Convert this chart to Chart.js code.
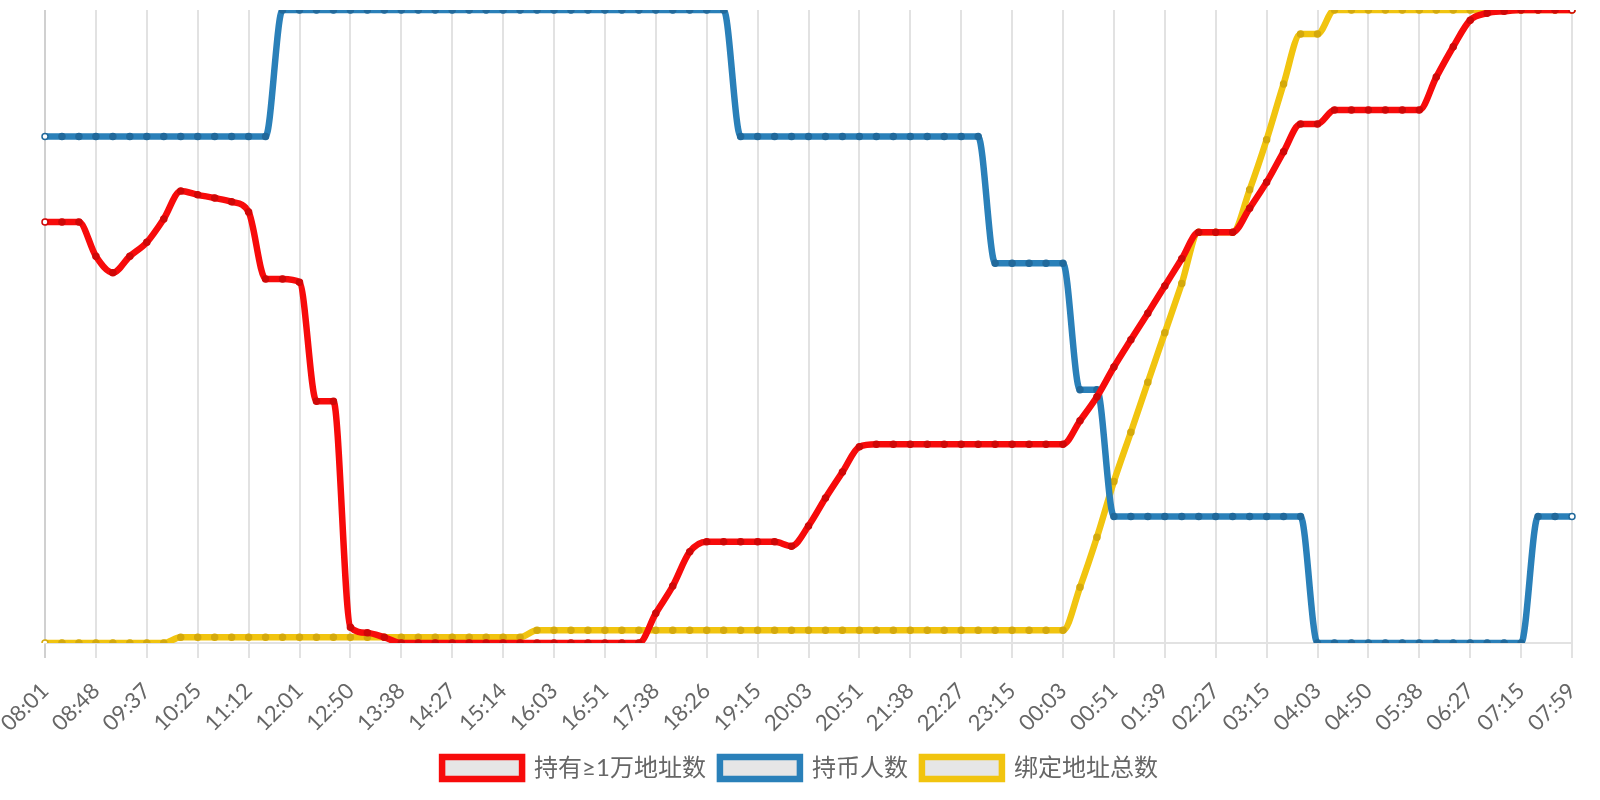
<!DOCTYPE html>
<html>
<head>
<meta charset="utf-8">
<title>持币统计</title>
<script src="https://cdn.jsdelivr.net/npm/chart.js@4/dist/chart.umd.min.js"></script>
<style>
  html, body { margin: 0; padding: 0; background: #fff; }
  #wrap { width: 1600px; height: 800px; position: relative; }
</style>
</head>
<body>
<div id="wrap"><canvas id="chartHolders"></canvas></div>
<script>
// horas de muestreo (cada ~16 min, se muestra 1 de cada 3)
const timeLabels = [
  "08:01","08:17","08:32","08:48","09:04","09:21","09:37","09:53","10:09","10:25",
  "10:41","10:56","11:12","11:28","11:45","12:01","12:17","12:34","12:50","13:06",
  "13:22","13:38","13:54","14:11","14:27","14:43","14:58","15:14","15:30","15:47",
  "16:03","16:19","16:35","16:51","17:07","17:22","17:38","17:54","18:10","18:26",
  "18:42","18:59","19:15","19:31","19:47","20:03","20:19","20:35","20:51","21:07",
  "21:22","21:38","21:54","22:11","22:27","22:43","22:59","23:15","23:31","23:47",
  "00:03","00:19","00:35","00:51","01:07","01:23","01:39","01:55","02:11","02:27",
  "02:43","02:59","03:15","03:31","03:47","04:03","04:19","04:34","04:50","05:06",
  "05:22","05:38","05:54","06:11","06:27","06:43","06:59","07:15","07:30","07:44",
  "07:59"
];

const seriesNames = ["持有≥1万地址数", "持币人数", "绑定地址总数"];

// 持有≥1万地址数 (relativo, 0-100)
const bigHolders = [
  66.5, 66.5, 66.5, 61.1, 58.5, 61.1, 63.3, 67.0, 71.4, 70.8,
  70.3, 69.7, 68.1, 57.5, 57.5, 57.0, 38.2, 38.2, 2.5, 1.6,
  0.9, 0, 0, 0, 0, 0, 0, 0, 0, 0,
  0, 0, 0, 0, 0, 0, 4.7, 9.0, 14.4, 16.0,
  16.0, 16.0, 16.0, 16.0, 15.3, 18.5, 22.9, 27.0, 31.0, 31.4,
  31.4, 31.4, 31.4, 31.4, 31.4, 31.4, 31.4, 31.4, 31.4, 31.4,
  31.4, 35.1, 38.9, 43.6, 47.9, 52.1, 56.4, 60.7, 64.9, 64.9,
  64.9, 68.7, 72.8, 77.6, 82.0, 82.0, 84.2, 84.2, 84.2, 84.2,
  84.2, 84.2, 89.4, 94.2, 98.4, 99.5, 99.8, 100, 100, 100,
  100
];

// 持币人数
const holders = [
  4, 4, 4, 4, 4, 4, 4, 4, 4, 4,
  4, 4, 4, 4, 5, 5, 5, 5, 5, 5,
  5, 5, 5, 5, 5, 5, 5, 5, 5, 5,
  5, 5, 5, 5, 5, 5, 5, 5, 5, 5,
  5, 4, 4, 4, 4, 4, 4, 4, 4, 4,
  4, 4, 4, 4, 4, 4, 3, 3, 3, 3,
  3, 2, 2, 1, 1, 1, 1, 1, 1, 1,
  1, 1, 1, 1, 1, 0, 0, 0, 0, 0,
  0, 0, 0, 0, 0, 0, 0, 0, 1, 1,
  1
];

// 绑定地址总数 (relativo, 0-100)
const boundAddrs = [
  0, 0, 0, 0, 0, 0, 0, 0, 0.9, 0.9,
  0.9, 0.9, 0.9, 0.9, 0.9, 0.9, 0.9, 0.9, 0.9, 0.9,
  0.9, 0.9, 0.9, 0.9, 0.9, 0.9, 0.9, 0.9, 0.9, 2.0,
  2.0, 2.0, 2.0, 2.0, 2.0, 2.0, 2.0, 2.0, 2.0, 2.0,
  2.0, 2.0, 2.0, 2.0, 2.0, 2.0, 2.0, 2.0, 2.0, 2.0,
  2.0, 2.0, 2.0, 2.0, 2.0, 2.0, 2.0, 2.0, 2.0, 2.0,
  2.0, 8.8, 16.7, 25.5, 33.3, 41.2, 49.0, 56.8, 64.9, 64.9,
  64.9, 71.6, 79.5, 88.3, 96.2, 96.2, 100, 100, 100, 100,
  100, 100, 100, 100, 100, 100, 100, 100, 100, 100,
  100
];

const FONT = "Lato, 'Noto Sans CJK SC', sans-serif";

function lineSet(label, data, color, dotColor, axis){
  const last = data.length - 1;
  return {
    label,
    data,
    yAxisID: axis,
    borderColor: color,
    backgroundColor: "#e6e6e6",
    borderWidth: 6.5,
    pointRadius: 3,
    pointBorderWidth: 1.5,
    pointBorderColor: dotColor,
    // extremos huecos, el resto punto oscuro
    pointBackgroundColor: (ctx) => (ctx.dataIndex === 0 || ctx.dataIndex === last) ? "#fff" : dotColor,
    cubicInterpolationMode: "monotone",
    fill: false
  };
}

const el = document.getElementById("chartHolders");
new Chart(el, {
  type: "line",
  data: {
    labels: timeLabels,
    datasets: [
      lineSet(seriesNames[0], bigHolders, "#f70b0b", "#cf0808", "yPct"),
      lineSet(seriesNames[1], holders,    "#2a80b9", "#21699b", "yCnt"),
      lineSet(seriesNames[2], boundAddrs, "#f1c40f", "#d4a90c", "yPct")
    ]
  },
  options: {
    responsive: true,
    maintainAspectRatio: false,
    animation: false,
    layout: { padding: { top: 10, right: 0, left: 0, bottom: 10 } },
    plugins: {
      tooltip: { enabled: false },
      legend: {
        position: "bottom",
        labels: {
          color: "#666",
          font: { family: FONT, size: 24 },
          boxWidth: 80,
          boxHeight: 22,
          padding: 14
        }
      }
    },
    scales: {
      x: {
        afterFit: (s) => { s.height = 99; s.paddingLeft = 45; s.paddingRight = 28; },
        grid: {
          color: (ctx) => ctx.index === 0 ? "#d0d0d0" : "#e2e2e2",
          lineWidth: 2,
          tickLength: 15
        },
        border: { color: "#e2e2e2", width: 2 },
        ticks: {
          autoSkip: false,
          minRotation: 45,
          maxRotation: 45,
          padding: 20,
          color: "#666",
          font: { family: FONT, size: 22 },
          callback: function(v, i){ return i % 3 === 0 ? this.getLabelForValue(v) : null; }
        }
      },
      yPct: { display: false, min: 0, max: 100 },
      yCnt: { display: false, min: 0, max: 5 }
    }
  }
});
</script>
</body>
</html>
